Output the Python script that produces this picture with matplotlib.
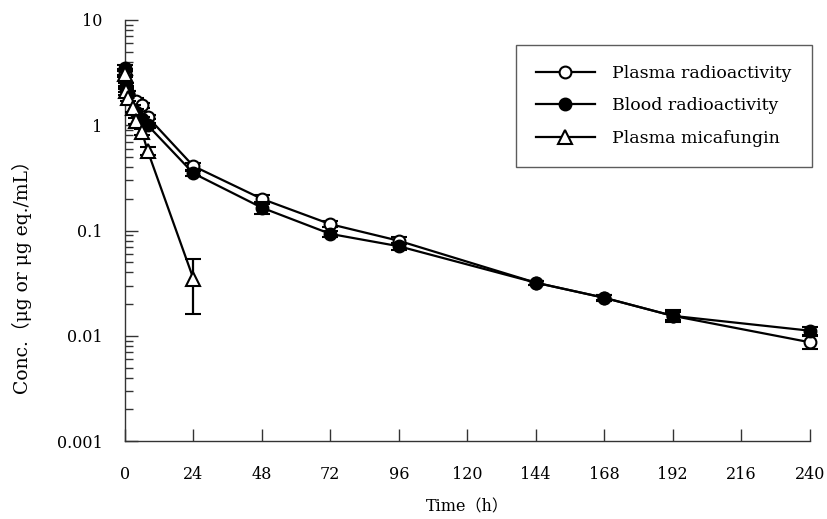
import matplotlib
matplotlib.use("Agg")
import matplotlib.pyplot as plt
from matplotlib.lines import Line2D
from matplotlib.ticker import LogLocator, NullFormatter, FixedLocator, FixedFormatter

# ---- data ----
t_radio = [0.083, 0.5, 1, 4, 6, 8, 24, 48, 72, 96, 144, 168, 192, 240]
plasma_radio = [3.2, 2.2, 2.0, 1.7, 1.55, 1.2, 0.41, 0.20, 0.115, 0.080, 0.032, 0.023, 0.0155, 0.0087]
plasma_radio_sd = [0.2, 0.15, 0.1, 0.1, 0.08, 0.06, 0.03, 0.02, 0.008, 0.006, 0.0015, 0.0012, 0.0015, 0.0012]
blood_radio = [3.5, 2.35, 2.0, 1.35, 1.15, 1.0, 0.35, 0.165, 0.093, 0.071, 0.032, 0.023, 0.0155, 0.0112]
blood_radio_sd = [0.2, 0.15, 0.1, 0.08, 0.06, 0.05, 0.02, 0.02, 0.006, 0.005, 0.0015, 0.0015, 0.002, 0.001]
t_mica = [0.083, 0.5, 1, 3, 4, 6, 8, 24]
plasma_mica = [3.1, 2.1, 1.8, 1.45, 1.1, 0.86, 0.57, 0.035]
plasma_mica_sd = [0.2, 0.15, 0.1, 0.1, 0.08, 0.06, 0.05, 0.019]

x_ticks = [0, 24, 48, 72, 96, 120, 144, 168, 192, 216, 240]
y_ticks = [0.001, 0.01, 0.1, 1, 10]
y_ticklabels = ["0.001", "0.01", "0.1", "1", "10"]
series_labels = ["Plasma radioactivity", "Blood radioactivity", "Plasma micafungin"]

serif = ["DejaVu Serif", "Noto Sans CJK JP"]
plt.rcParams['font.family'] = serif

fig = plt.figure(figsize=(8.27, 5.19), dpi=100)
ax = fig.add_axes([0.151, 0.150, 0.828, 0.8115])

common = dict(color="black", lw=1.6, elinewidth=1.6, capsize=6, capthick=1.6,
              markeredgewidth=1.5, markeredgecolor="black", clip_on=False)

ax.errorbar(t_radio, plasma_radio, yerr=plasma_radio_sd, marker="o", markersize=8.5,
            markerfacecolor="white", zorder=3, **common)
ax.errorbar(t_radio, blood_radio, yerr=blood_radio_sd, marker="o", markersize=8.5,
            markerfacecolor="black", zorder=4, **common)
ax.errorbar(t_mica, plasma_mica, yerr=plasma_mica_sd, marker="^", markersize=9.5,
            markerfacecolor="white", zorder=5, **common)

ax.set_yscale("log")
ax.set_xlim(0, 240)
ax.set_ylim(0.001, 10)

ax.xaxis.set_major_locator(FixedLocator(x_ticks))
ax.set_xticklabels([str(v) for v in x_ticks])
ax.yaxis.set_major_locator(FixedLocator(y_ticks))
ax.yaxis.set_major_formatter(FixedFormatter(y_ticklabels))
ax.yaxis.set_minor_locator(LogLocator(base=10, subs=range(2, 10)))
ax.yaxis.set_minor_formatter(NullFormatter())

for s in ["top", "right"]:
    ax.spines[s].set_visible(False)
for s in ["left", "bottom"]:
    ax.spines[s].set_linewidth(1.0)
    ax.spines[s].set_color("#333333")

ax.tick_params(axis="both", which="major", direction="in", length=9, width=1.0,
               labelsize=11.5, colors="#333333", labelcolor="black")
ax.tick_params(axis="y", which="minor", direction="in", length=6, width=1.0, colors="#333333")
ax.tick_params(axis="x", which="major", pad=18)
ax.tick_params(axis="y", which="major", pad=16)

ax.set_xlabel("Time（h）", fontsize=11.5, labelpad=11)
ax.set_ylabel("Conc.（μg or μg eq./mL）", fontsize=13.5)
ax.yaxis.set_label_coords(-0.136, 0.40)

handles = [
    Line2D([], [], color="black", lw=1.6, marker="o", markersize=8.5, markerfacecolor="white",
           markeredgecolor="black", markeredgewidth=1.5),
    Line2D([], [], color="black", lw=1.6, marker="o", markersize=8.5, markerfacecolor="black",
           markeredgecolor="black", markeredgewidth=1.5),
    Line2D([], [], color="black", lw=1.6, marker="^", markersize=9.5, markerfacecolor="white",
           markeredgecolor="black", markeredgewidth=1.5),
]
leg = ax.legend(handles, series_labels, loc="upper right", bbox_to_anchor=(1.003, 0.941),
                fontsize=12.5, frameon=True, fancybox=False, edgecolor="#333333",
                handlelength=3.4, handletextpad=1.0, borderpad=1.15, labelspacing=0.9,
                borderaxespad=0)
leg.get_frame().set_linewidth(1.0)

fig.savefig("out.png", dpi=100)
